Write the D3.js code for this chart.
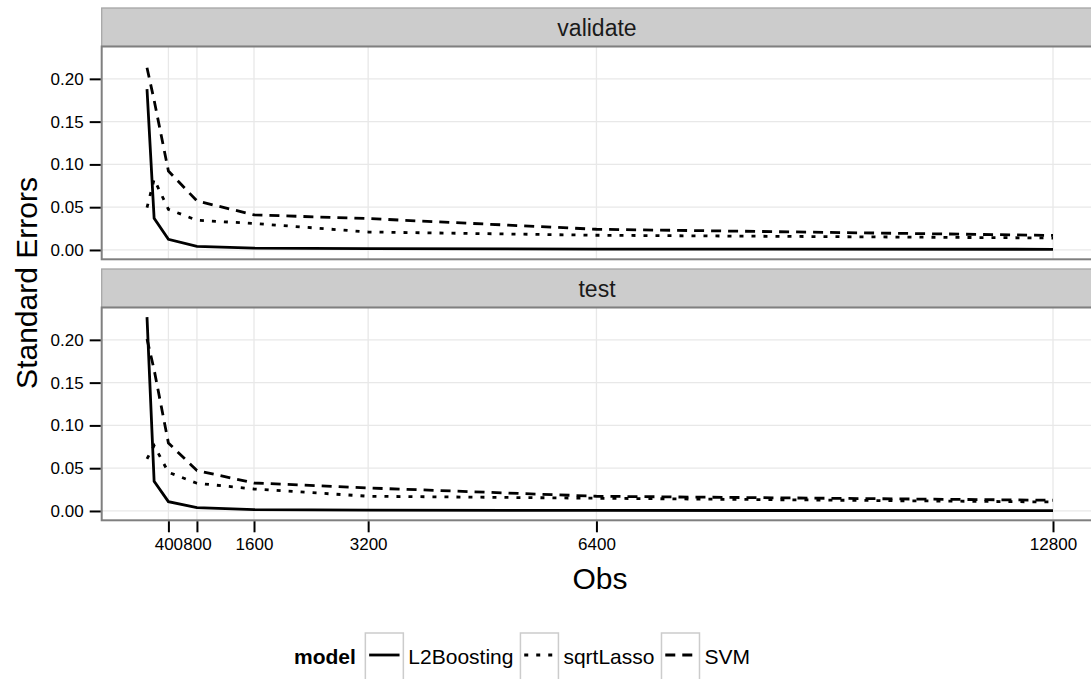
<!DOCTYPE html>
<html>
<head>
<meta charset="utf-8">
<script src="https://cdn.jsdelivr.net/npm/d3@7"></script>
<style>
  body { margin: 0; background: #fff; }
  text { font-family: 'Liberation Sans', Arial, sans-serif; }
</style>
</head>
<body>
<div id="chart"></div>
<script>
// values
const obs = [100, 200, 400, 800, 1600, 3200, 6400, 12800]
const xTicks = [400, 800, 1600, 3200, 6400, 12800]
const yTicks = [0, 0.05, 0.10, 0.15, 0.20]
const facets = ['validate', 'test']
const models = ['L2Boosting', 'sqrtLasso', 'SVM']

const validateL2Boosting = [0.188, 0.037, 0.0125, 0.0043, 0.0022, 0.0015, 0.001, 0.0008]
const validateSqrtLasso = [0.0495, 0.0826, 0.0475, 0.0347, 0.031, 0.021, 0.0172, 0.014]
const validateSVM = [0.213, 0.175, 0.0923, 0.0573, 0.041, 0.0367, 0.0242, 0.017]

const testL2Boosting = [0.2265, 0.0347, 0.0109, 0.0039, 0.0015, 0.001, 0.0006, 0.0004]
const testSqrtLasso = [0.0608, 0.0764, 0.0452, 0.0324, 0.0257, 0.0172, 0.0149, 0.0105]
const testSVM = [0.201, 0.165, 0.0795, 0.0472, 0.0327, 0.0269, 0.0172, 0.0125]

const seriesByFacet = {
  validate: [validateL2Boosting, validateSqrtLasso, validateSVM],
  test: [testL2Boosting, testSqrtLasso, testSVM]
}

const width = 1091
const height = 679
const left = 101.7
const right = 1098.3 // the panel runs past the picture edge
const top0 = 8
const stripH = 38.5
const panelH = 212.8
const gap = 9.7

const dashes = { L2Boosting: null, sqrtLasso: '4,8', SVM: '10,7' }

const svg = d3.select('#chart')
  .append('svg')
  .attr('width', width)
  .attr('height', height)

// ggplot style 5% expansion
const xExt = d3.extent(obs)
const xPad = (xExt[1] - xExt[0]) * 0.05
const x = d3.scaleLinear()
  .domain([xExt[0] - xPad, xExt[1] + xPad])
  .range([left, right])

const allVals = d3.merge(facets.map(f => d3.merge(seriesByFacet[f])))
const yExt = d3.extent(allVals)
const yPad = (yExt[1] - yExt[0]) * 0.05

const line = d3.line()
  .x(d => x(d.obs))
  .y(d => d.y)

facets.forEach(function (facet, i) {
  const stripTop = top0 + i * (stripH + panelH + gap)
  const pTop = stripTop + stripH
  const pBottom = pTop + panelH
  const y = d3.scaleLinear()
    .domain([yExt[0] - yPad, yExt[1] + yPad])
    .range([pBottom, pTop])

  const g = svg.append('g')

  // strip
  g.append('rect')
    .attr('x', left)
    .attr('y', stripTop)
    .attr('width', right - left)
    .attr('height', stripH)
    .style('fill', '#cccccc')
    .style('stroke', '#a6a6a6')
    .style('stroke-width', 1.3)
  g.append('text')
    .attr('x', (left + right) / 2 - 3)
    .attr('y', stripTop + stripH / 2)
    .attr('dy', '0.36em')
    .attr('text-anchor', 'middle')
    .attr('font-size', '23px')
    .attr('fill', '#1a1a1a')
    .text(facet)

  // panel background and grid
  g.append('rect')
    .attr('x', left)
    .attr('y', pTop)
    .attr('width', right - left)
    .attr('height', panelH)
    .style('fill', '#fff')

  g.selectAll('.vgrid')
    .data(xTicks)
    .enter()
    .append('line')
    .attr('x1', d => x(d))
    .attr('x2', d => x(d))
    .attr('y1', pTop)
    .attr('y2', pBottom)
    .style('stroke', '#e8e8e8')
    .style('stroke-width', 1.3)

  g.selectAll('.hgrid')
    .data(yTicks)
    .enter()
    .append('line')
    .attr('x1', left)
    .attr('x2', right)
    .attr('y1', d => y(d))
    .attr('y2', d => y(d))
    .style('stroke', '#e8e8e8')
    .style('stroke-width', 1.3)

  // lines
  const clipId = 'clip' + i
  svg.append('clipPath').attr('id', clipId)
    .append('rect')
    .attr('x', left).attr('y', pTop)
    .attr('width', right - left).attr('height', panelH)

  models.forEach(function (m, k) {
    const vals = seriesByFacet[facet][k]
    const pts = obs.map((o, j) => ({ obs: o, y: y(vals[j]) }))
    g.append('path')
      .attr('d', line(pts))
      .attr('clip-path', 'url(#' + clipId + ')')
      .style('fill', 'none')
      .style('stroke', '#000')
      .style('stroke-width', 2.8)
      .style('stroke-dasharray', dashes[m])
  })

  // panel border
  g.append('rect')
    .attr('x', left)
    .attr('y', pTop)
    .attr('width', right - left)
    .attr('height', panelH)
    .style('fill', 'none')
    .style('stroke', '#7f7f7f')
    .style('stroke-width', 2)

  // y axis
  const yAxis = d3.axisLeft(y)
    .tickValues(yTicks)
    .tickFormat(d3.format('.2f'))
    .tickSize(11)
    .tickPadding(6)
  const ya = g.append('g')
    .attr('transform', 'translate(' + (left - 1) + ',0)')
    .call(yAxis)
  ya.select('.domain').remove()
  ya.selectAll('line').style('stroke', '#000').style('stroke-width', 2)
  ya.selectAll('text').attr('font-size', '17px').attr('fill', '#000')
    .style('font-family', "'Liberation Sans', Arial, sans-serif")

  // x axis on bottom facet only
  if (i === facets.length - 1) {
    const xAxis = d3.axisBottom(x)
      .tickValues(xTicks)
      .tickFormat(d3.format('d'))
      .tickSize(11)
      .tickPadding(6)
    const xa = g.append('g')
      .attr('transform', 'translate(0,' + (pBottom + 1) + ')')
      .call(xAxis)
    xa.select('.domain').remove()
    xa.selectAll('line').style('stroke', '#000').style('stroke-width', 2)
    xa.selectAll('text').attr('font-size', '17px').attr('fill', '#000')
      .style('font-family', "'Liberation Sans', Arial, sans-serif")

    svg.append('text')
      .attr('x', (left + right) / 2)
      .attr('y', pBottom + 69)
      .attr('text-anchor', 'middle')
      .attr('font-size', '30px')
      .text('Obs')
  }
})

// y axis title
svg.append('text')
  .attr('transform', 'translate(37,' + 283 + ') rotate(-90)')
  .attr('text-anchor', 'middle')
  .attr('font-size', '30px')
  .text('Standard Errors')

// legend
const legend = svg.append('g')
const legendMid = 656
let lx = 294
const title = legend.append('text')
  .attr('x', lx)
  .attr('y', legendMid)
  .attr('dy', '0.36em')
  .attr('font-size', '21px')
  .attr('font-weight', 'bold')
  .text('model')
lx += title.node().getComputedTextLength() + 9.5

models.forEach(function (m) {
  legend.append('rect')
    .attr('x', lx)
    .attr('y', 633)
    .attr('width', 38)
    .attr('height', 60)
    .style('fill', '#fff')
    .style('stroke', '#cccccc')
    .style('stroke-width', 1.5)
  legend.append('line')
    .attr('x1', lx + 3.8)
    .attr('x2', lx + 34.2)
    .attr('y1', legendMid - 1)
    .attr('y2', legendMid - 1)
    .style('stroke', '#000')
    .style('stroke-width', 2.8)
    .style('stroke-dasharray', dashes[m])
  lx += 38 + 5
  const t = legend.append('text')
    .attr('x', lx)
    .attr('y', legendMid)
    .attr('dy', '0.36em')
    .attr('font-size', '21px')
    .text(m)
  lx += t.node().getComputedTextLength() + 7
})
</script>
</body>
</html>
